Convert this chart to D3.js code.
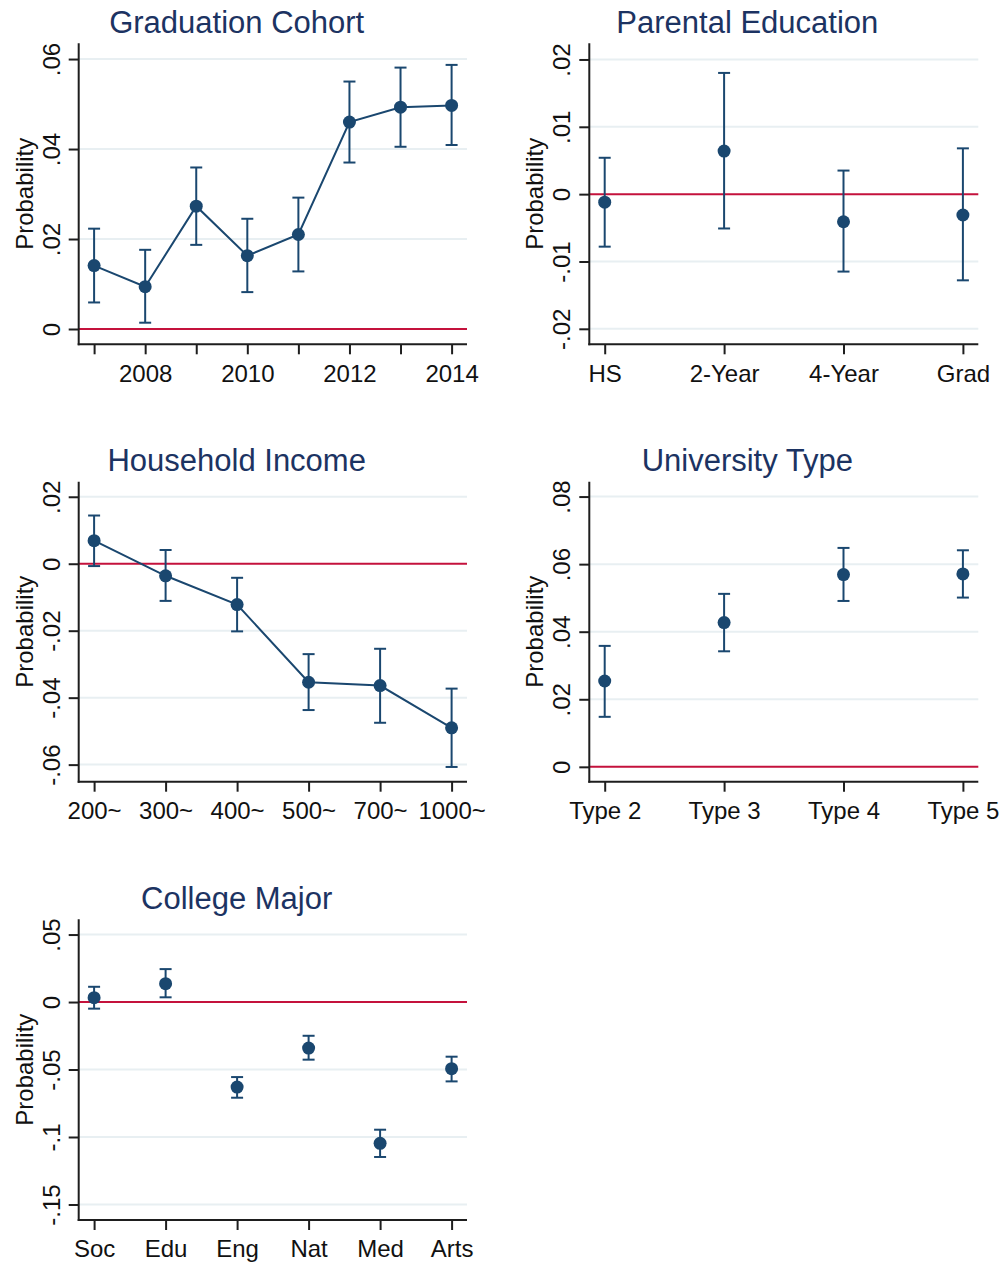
<!DOCTYPE html>
<html>
<head>
<meta charset="utf-8">
<title>Probability by group</title>
<script src="https://cdn.jsdelivr.net/npm/d3@7"></script>
<style>
  body { margin: 0; background: #fff; }
  svg { display: block; font-family: "Liberation Sans", Arial, sans-serif; }
</style>
</head>
<body>
<svg width="1004" height="1264" id="mainsvg"></svg>
<script>
// ---- data ----
const cohortYears = [2007, 2008, 2009, 2010, 2011, 2012, 2013, 2014];
const cohortEst   = [0.0141, 0.0094, 0.0273, 0.0163, 0.0210, 0.0460, 0.0493, 0.0497];
const cohortLo    = [0.0059, 0.0014, 0.0187, 0.0082, 0.0128, 0.0370, 0.0405, 0.0409];
const cohortHi    = [0.0223, 0.0176, 0.0359, 0.0245, 0.0292, 0.0550, 0.0581, 0.0587];
const cohortTicks = [0, 0.02, 0.04, 0.06];

const parentCats  = ["HS", "2-Year", "4-Year", "Grad"];
const parentEst   = [-0.0012, 0.0064, -0.0041, -0.0031];
const parentLo    = [-0.0078, -0.0051, -0.0115, -0.0128];
const parentHi    = [0.0054, 0.0180, 0.0035, 0.0068];
const parentTicks = [-0.02, -0.01, 0, 0.01, 0.02];

const incomeCats  = ["200~", "300~", "400~", "500~", "700~", "1000~"];
const incomeEst   = [0.0069, -0.0036, -0.0122, -0.0354, -0.0364, -0.0490];
const incomeLo    = [-0.0007, -0.0111, -0.0202, -0.0437, -0.0475, -0.0607];
const incomeHi    = [0.0144, 0.0041, -0.0042, -0.0270, -0.0254, -0.0373];
const incomeTicks = [-0.06, -0.04, -0.02, 0, 0.02];

const univCats    = ["Type 2", "Type 3", "Type 4", "Type 5"];
const univEst     = [0.0254, 0.0427, 0.0569, 0.0571];
const univLo      = [0.0148, 0.0342, 0.0491, 0.0501];
const univHi      = [0.0358, 0.0512, 0.0648, 0.0641];
const univTicks   = [0, 0.02, 0.04, 0.06, 0.08];

const majorCats   = ["Soc", "Edu", "Eng", "Nat", "Med", "Arts"];
const majorEst    = [0.0032, 0.0136, -0.0630, -0.0341, -0.1047, -0.0494];
const majorLo     = [-0.0049, 0.0035, -0.0709, -0.0427, -0.1148, -0.0588];
const majorHi     = [0.0113, 0.0244, -0.0556, -0.0250, -0.0946, -0.0405];
const majorTicks  = [-0.15, -0.1, -0.05, 0, 0.05];

// ---- look ----
const NAVY = '#1a476f';
const TITLE = '#1c3362';
const RED = '#c4123c';
const GRID = '#e8eff2';
const AXIS = '#1e1e1e';

const svg = d3.select('svg');

// Stata-like label: drop leading zero
const fmt = v => {
  if (v === 0) return '0';
  let s = String(+v.toFixed(4));
  return s.replace(/^0\./, '.').replace(/^-0\./, '-.');
};

const panels = [
  {title: 'Graduation Cohort', cats: cohortYears, est: cohortEst, lo: cohortLo, hi: cohortHi,
   ticks: cohortTicks, ydom: [-0.0034, 0.0635], box: [78.7, 43.3, 467, 344.3], line: true,
   numeric: true, xLabels: [2008, 2010, 2012, 2014]},
  {title: 'Parental Education', cats: parentCats, est: parentEst, lo: parentLo, hi: parentHi,
   ticks: parentTicks, ydom: [-0.0223, 0.0224], box: [589.3, 43.3, 978.3, 344.3], line: false},
  {title: 'Household Income', cats: incomeCats, est: incomeEst, lo: incomeLo, hi: incomeHi,
   ticks: incomeTicks, ydom: [-0.0651, 0.0245], box: [78.7, 481.7, 467, 781.7], line: true},
  {title: 'University Type', cats: univCats, est: univEst, lo: univLo, hi: univHi,
   ticks: univTicks, ydom: [-0.0044, 0.0844], box: [589.3, 481.7, 978.3, 781.7], line: false},
  {title: 'College Major', cats: majorCats, est: majorEst, lo: majorLo, hi: majorHi,
   ticks: majorTicks, ydom: [-0.1615, 0.0613], box: [78.7, 919.3, 467, 1220], line: false}
];

panels.forEach(p => {
  const [x0, y0, x1, y1] = p.box;
  const pad = 15.4;
  const g = svg.append('g');

  const yScale = d3.scaleLinear().domain(p.ydom).range([y1, y0]);
  let xScale, xAxis;
  if (p.numeric) {
    xScale = d3.scaleLinear().domain(d3.extent(p.cats)).range([x0 + pad, x1 - pad]);
    xAxis = d3.axisBottom(xScale).tickValues(p.cats)
      .tickFormat(d => p.xLabels.includes(d) ? String(d) : '');
  } else {
    xScale = d3.scalePoint().domain(p.cats).range([x0 + pad, x1 - pad]);
    xAxis = d3.axisBottom(xScale);
  }
  const xv = (d, i) => xScale(p.cats[i]);

  // gridlines
  g.selectAll('.grid').data(p.ticks.filter(t => t !== 0)).join('line')
    .attr('x1', x0).attr('x2', x1)
    .attr('y1', d => yScale(d)).attr('y2', d => yScale(d))
    .attr('stroke', GRID).attr('stroke-width', 2);

  // zero reference line
  g.append('line')
    .attr('x1', x0).attr('x2', x1)
    .attr('y1', yScale(0)).attr('y2', yScale(0))
    .attr('stroke', RED).attr('stroke-width', 2);

  // y axis
  const yAxis = d3.axisLeft(yScale).tickValues(p.ticks).tickFormat(fmt)
    .tickSize(10).tickSizeOuter(0).tickPadding(0);
  const ya = g.append('g').attr('transform', `translate(${x0},0)`).call(yAxis);
  ya.select('.domain').attr('stroke', AXIS).attr('stroke-width', 2)
    .attr('d', `M0,${y0}V${y1 + 1}`);
  ya.selectAll('.tick line').attr('stroke', AXIS).attr('stroke-width', 2);
  ya.selectAll('.tick text')
    .attr('x', 0).attr('dy', null)
    .attr('transform', 'translate(-19,0) rotate(-90)')
    .attr('text-anchor', 'middle')
    .attr('font-size', 24).attr('fill', '#111')
    .attr('font-family', '"Liberation Sans", Arial, sans-serif');

  // x axis
  xAxis.tickSize(10).tickSizeOuter(0).tickPadding(0);
  const xa = g.append('g').attr('transform', `translate(0,${y1})`).call(xAxis);
  xa.select('.domain').attr('stroke', AXIS).attr('stroke-width', 2)
    .attr('d', `M${x0 - 1},0H${x1}`);
  xa.selectAll('.tick line').attr('stroke', AXIS).attr('stroke-width', 2);
  xa.selectAll('.tick text')
    .attr('y', 37.4).attr('dy', null)
    .attr('font-size', 24).attr('fill', '#111')
    .attr('font-family', '"Liberation Sans", Arial, sans-serif');

  // axis title
  g.append('text')
    .attr('transform', `translate(${x0 - 46},${(y0 + y1) / 2}) rotate(-90)`)
    .attr('text-anchor', 'middle')
    .attr('font-size', 24).attr('fill', '#111')
    .text('Probability');

  // panel title
  g.append('text')
    .attr('x', x0 + 158).attr('y', y0 - 10.8)
    .attr('text-anchor', 'middle')
    .attr('font-size', 31).attr('fill', TITLE)
    .text(p.title);

  // connecting line
  if (p.line) {
    const line = d3.line().x((d, i) => xv(d, i)).y(d => yScale(d));
    g.append('path').datum(p.est)
      .attr('d', line).attr('fill', 'none')
      .attr('stroke', NAVY).attr('stroke-width', 2);
  }

  // error bars
  const bars = g.selectAll('.bar').data(p.est).join('g');
  bars.append('line')
    .attr('x1', xv).attr('x2', xv)
    .attr('y1', (d, i) => yScale(p.lo[i])).attr('y2', (d, i) => yScale(p.hi[i]))
    .attr('stroke', NAVY).attr('stroke-width', 2);
  [p.lo, p.hi].forEach(arr => {
    bars.append('line')
      .attr('x1', (d, i) => xv(d, i) - 6).attr('x2', (d, i) => xv(d, i) + 6)
      .attr('y1', (d, i) => yScale(arr[i])).attr('y2', (d, i) => yScale(arr[i]))
      .attr('stroke', NAVY).attr('stroke-width', 2);
  });

  // markers
  g.selectAll('.pt').data(p.est).join('circle')
    .attr('cx', xv).attr('cy', d => yScale(d)).attr('r', 6.5)
    .attr('fill', NAVY);
});
</script>
</body>
</html>
